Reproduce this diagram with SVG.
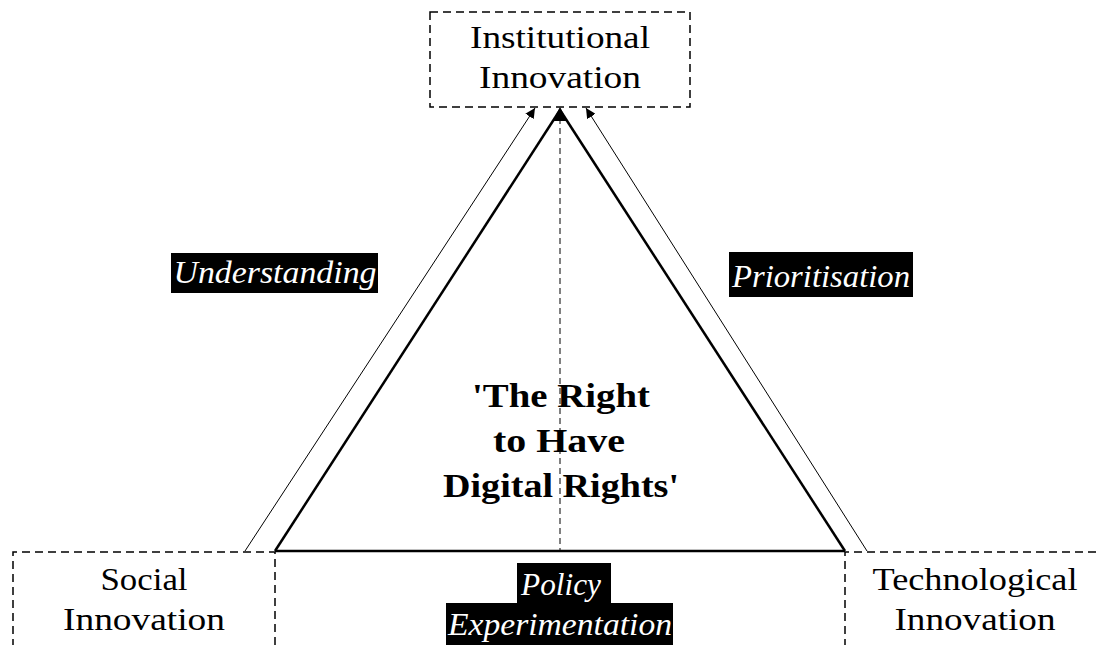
<svg xmlns="http://www.w3.org/2000/svg" width="1099" height="645" viewBox="0 0 1099 645">
<defs>
<style>
.box{fill:none;stroke:#000;stroke-width:1.5;stroke-dasharray:8,5}
.node{font-family:"Liberation Serif",serif;font-size:32px;fill:#000;text-anchor:middle}
.lbl{font-family:"Liberation Serif",serif;font-style:italic;font-size:32px;fill:#fff;text-anchor:middle}
.ctr{font-family:"Liberation Serif",serif;font-weight:bold;font-size:34px;fill:#000;text-anchor:middle}
.thick{stroke:#000;stroke-width:2.5;fill:none}
.thin{stroke:#000;stroke-width:1;fill:none}
.dash{stroke:#000;stroke-width:1;stroke-dasharray:6,4;fill:none}
</style>
<marker id="ah" viewBox="0 0 10 10" refX="10" refY="5" markerWidth="10" markerHeight="10" markerUnits="userSpaceOnUse" orient="auto">
<path d="M0,0 L10,5 L0,10 z" fill="#000"/>
</marker>
</defs>
<rect width="1099" height="645" fill="#fff"/>
<g id="connectors">
<line class="dash" x1="560" y1="108" x2="560" y2="551"/>
<line class="thick" x1="275" y1="551" x2="560" y2="110"/>
<line class="thick" x1="845" y1="551" x2="560" y2="110"/>
<line class="thick" x1="275" y1="551" x2="845" y2="551"/>
<polygon points="560,107 553,121 567,121" fill="#000"/>
<line class="thin" x1="245" y1="551" x2="535" y2="108" marker-end="url(#ah)"/>
<line class="thin" x1="867" y1="551" x2="586" y2="108" marker-end="url(#ah)"/>
</g>
<g id="institutional">
<rect class="box" x="430" y="12" width="260" height="95"/>
<text class="node" x="560" y="48" textLength="180" lengthAdjust="spacingAndGlyphs">Institutional</text>
<text class="node" x="560" y="88" textLength="162" lengthAdjust="spacingAndGlyphs">Innovation</text>
</g>
<g id="social">
<path class="box" d="M13,660 L13,552 L275,552 L275,660"/>
<text class="node" x="144" y="590" textLength="87" lengthAdjust="spacingAndGlyphs">Social</text>
<text class="node" x="144" y="630" textLength="162" lengthAdjust="spacingAndGlyphs">Innovation</text>
</g>
<g id="technological">
<path class="box" d="M845,660 L845,552 L1110,552"/>
<text class="node" x="975" y="590" textLength="205" lengthAdjust="spacingAndGlyphs">Technological</text>
<text class="node" x="975" y="630" textLength="161" lengthAdjust="spacingAndGlyphs">Innovation</text>
</g>
<g id="center">
<text class="ctr" x="561" y="407" textLength="178" lengthAdjust="spacingAndGlyphs">'The Right</text>
<text class="ctr" x="559" y="452" textLength="132" lengthAdjust="spacingAndGlyphs">to Have</text>
<text class="ctr" x="561" y="497" textLength="236" lengthAdjust="spacingAndGlyphs">Digital Rights'</text>
</g>
<g id="understanding">
<rect x="171" y="253" width="207" height="40" fill="#000"/>
<text class="lbl" x="275" y="283" textLength="203" lengthAdjust="spacingAndGlyphs">Understanding</text>
</g>
<g id="prioritisation">
<rect x="729" y="252" width="184" height="45" fill="#000"/>
<text class="lbl" x="821" y="287" textLength="178" lengthAdjust="spacingAndGlyphs">Prioritisation</text>
</g>
<g id="policy">
<rect x="517" y="563" width="94" height="41" fill="#000"/>
<rect x="446" y="603" width="227" height="42" fill="#000"/>
<text class="lbl" x="561" y="595" textLength="80" lengthAdjust="spacingAndGlyphs">Policy</text>
<text class="lbl" x="560" y="635" textLength="224" lengthAdjust="spacingAndGlyphs">Experimentation</text>
</g>
</svg>
